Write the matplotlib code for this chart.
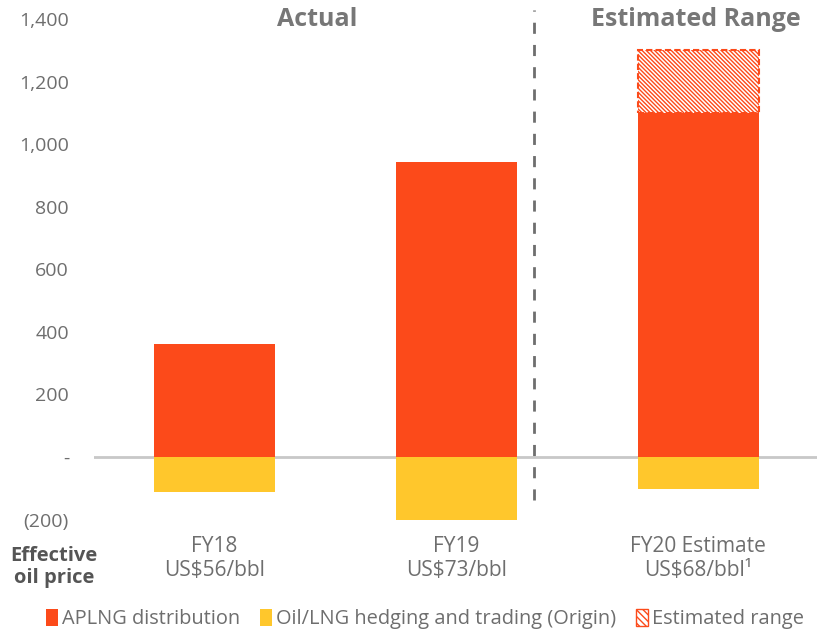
import matplotlib.pyplot as plt
from matplotlib.patches import Patch

# A$m, cash flow to Origin from APLNG and hedging
periods = ['FY18\nUS$56/bbl', 'FY19\nUS$73/bbl', 'FY20 Estimate\nUS$68/bbl\u00b9']
aplng = [361, 942, 1100]
hedging = [-112, -201, -102]
range_low = [0, 0, 1100]
range_high = [0, 0, 1300]

yticks = [-200, 0, 200, 400, 600, 800, 1000, 1200, 1400]
ytick_labels = ['(200)', '-', '200', '400', '600', '800', '1,000', '1,200', '1,400']

orange = '#FC4A1A'
yellow = '#FFC72C'
grey = '#6e6e6e'
hatch = '\\' * 8

plt.rcParams['font.family'] = ['Open Sans', 'DejaVu Sans']
plt.rcParams['hatch.linewidth'] = 1.0

fig = plt.figure(figsize=(8.17, 6.3), dpi=100)
ax = fig.add_axes([94 / 817, 0.1752, 1 - 94 / 817, 0.7946])

x = list(range(len(periods)))
w = 0.5
ax.bar(x, aplng, width=w, color=orange, zorder=2)
ax.bar(x, hedging, width=w, color=yellow, zorder=2)

# estimated range on top of the FY20 bar
for i in x:
    if range_high[i] > range_low[i]:
        ax.bar(i, range_high[i] - range_low[i], bottom=range_low[i], width=w,
               facecolor='white', edgecolor=orange, hatch=hatch,
               linestyle=(0, (3, 1.5)), linewidth=1.5, zorder=2)

ax.axhline(0, color='#c8c8c8', linewidth=2, zorder=1)
ax.plot([1.32, 1.32], [-137, 1430], color=grey, linestyle=(0, (4, 4)),
        linewidth=2, clip_on=False)

ax.set_xlim(-0.498, 2.49)
ax.set_ylim(-200, 1400)
ax.set_yticks(yticks)
ax.set_yticklabels(ytick_labels)
ax.set_xticks(x)
ax.set_xticklabels(periods)
ax.tick_params(axis='y', length=0, labelsize=14, labelcolor=grey, pad=18)
ax.tick_params(axis='x', length=0, labelsize=15, labelcolor=grey, pad=12)
for lbl in ax.get_xticklabels():
    lbl.set_linespacing(1.15)
for s in ax.spines.values():
    s.set_visible(False)

ax.text(0.426, 1400, 'Actual', ha='center', va='center', fontsize=18,
        fontweight='bold', color='#777777')
ax.text(1.99, 1400, 'Estimated Range', ha='center', va='center', fontsize=18,
        fontweight='bold', color='#777777')

fig.text(54 / 817, 1 - 567 / 630, 'Effective\noil price', ha='center', va='center',
         fontsize=14.5, fontweight='bold', color='#555555', linespacing=1.15)

handles = [Patch(facecolor=orange),
           Patch(facecolor=yellow),
           Patch(facecolor='white', edgecolor=orange, hatch='\\' * 5)]
labels = ['APLNG distribution', 'Oil/LNG hedging and trading (Origin)', 'Estimated range']
fig.legend(handles, labels, loc='center', bbox_to_anchor=(0.52, 1 - 619 / 630),
           ncol=3, frameon=False, fontsize=14.4, handlelength=0.6, handleheight=0.9,
           handletextpad=0.2, columnspacing=1.0, labelcolor=grey)

fig.savefig('out.png', dpi=100)
